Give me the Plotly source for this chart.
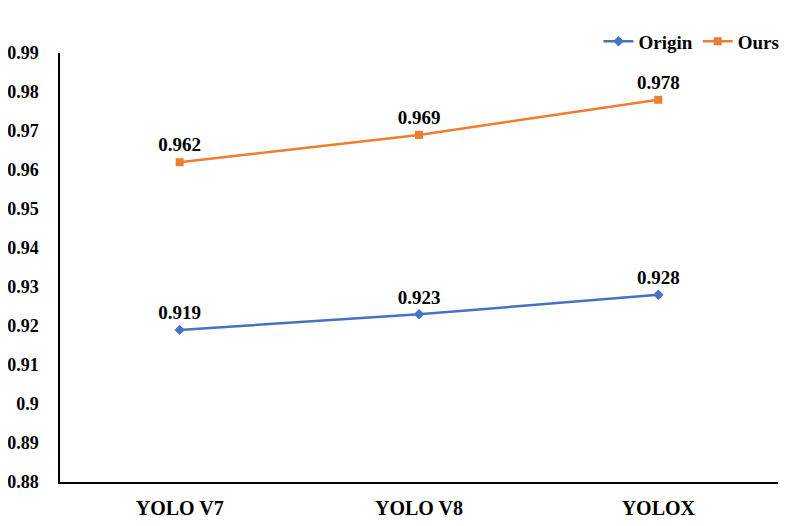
import plotly.graph_objects as go

categories = ["YOLO V7", "YOLO V8", "YOLOX"]
origin = [0.919, 0.923, 0.928]
ours = [0.962, 0.969, 0.978]
ytick_vals = [0.88, 0.89, 0.90, 0.91, 0.92, 0.93, 0.94, 0.95, 0.96, 0.97, 0.98, 0.99]
ytick_text = ["0.88", "0.89", "0.9", "0.91", "0.92", "0.93", "0.94", "0.95", "0.96", "0.97", "0.98", "0.99"]

FAM = "Liberation Serif, Times New Roman, serif"

fig = go.Figure()
fig.add_trace(go.Scatter(
    x=categories, y=origin, name="<b>Origin</b>", mode="lines+markers+text",
    line=dict(color="#4472C4", width=2.5),
    marker=dict(symbol="diamond", size=8, color="#4472C4"),
    text=[f"<b>{v:.3f}</b>" for v in origin], textposition="top center",
    textfont=dict(family=FAM, size=19, color="black"),
))
fig.add_trace(go.Scatter(
    x=categories, y=ours, name="<b>Ours</b>", mode="lines+markers+text",
    line=dict(color="#ED7D31", width=2.5),
    marker=dict(symbol="square", size=8, color="#ED7D31"),
    text=[f"<b>{v:.3f}</b>" for v in ours], textposition="top center",
    textfont=dict(family=FAM, size=19, color="black"),
))

fig.update_layout(
    width=781, height=518,
    margin=dict(l=52, r=11, t=45, b=44, autoexpand=False),
    paper_bgcolor="white", plot_bgcolor="white",
    font=dict(family=FAM, size=17, color="black"),
    showlegend=True,
    legend=dict(orientation="h", x=1.009, xanchor="right", y=1.027, yanchor="middle",
                font=dict(family=FAM, size=19, color="black"),
                itemwidth=30, traceorder="normal", bgcolor="rgba(0,0,0,0)"),
    xaxis=dict(
        range=[-0.5, 2.5], showline=True, linecolor="black", linewidth=1.5,
        showgrid=False, ticks="", zeroline=False, automargin=False,
        tickvals=categories, ticktext=[f"<b>{c}</b>" for c in categories],
        tickfont=dict(family=FAM, size=20, color="black"),
        ticklabelstandoff=7,
    ),
    yaxis=dict(
        range=[0.88, 0.99], tickvals=ytick_vals, ticktext=[f"<b>{t}</b>" for t in ytick_text],
        showline=True, linecolor="black", linewidth=1.5,
        showgrid=False, ticks="", zeroline=False, automargin=False,
        tickfont=dict(family=FAM, size=18, color="black"),
        ticklabelstandoff=16,
    ),
)

fig.write_html("out.html")
